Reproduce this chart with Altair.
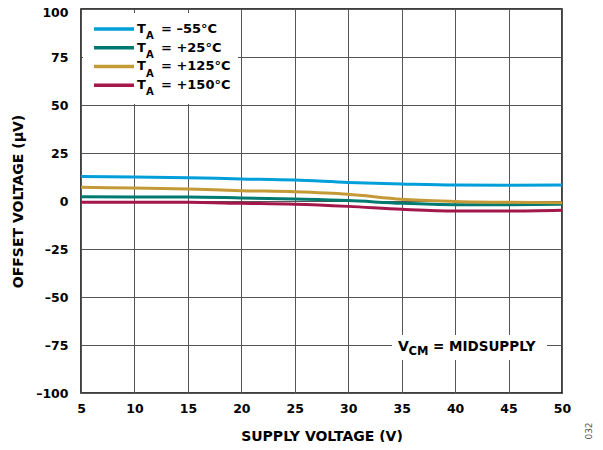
import altair as alt
import pandas as pd

# ---- data ----
supply_v = [5, 10, 15, 20, 25, 30, 35, 40, 45, 50]
off_m55 = [12.8, 12.5, 12.1, 11.5, 10.9, 9.7, 8.9, 8.3, 8.2, 8.3]
off_p25 = [2.2, 2.1, 2.1, 1.6, 1.0, 0.2, -1.2, -1.9, -1.9, -1.7]
off_p125 = [7.1, 6.8, 6.3, 5.4, 4.8, 3.5, 0.9, -0.2, -0.7, -0.9]
off_p150 = [-0.7, -0.7, -0.7, -1.2, -1.7, -2.8, -4.3, -5.2, -5.2, -4.8]

series_names = ["–55°C", "+25°C", "+125°C", "+150°C"]
series_values = [off_m55, off_p25, off_p125, off_p150]
series_colors = ["#009FDA", "#007A70", "#C49A37", "#A3174A"]

x_ticks = [5, 10, 15, 20, 25, 30, 35, 40, 45, 50]
y_ticks = [-100, -75, -50, -25, 0, 25, 50, 75, 100]

FONT = "DejaVu Sans"
W, H = 481, 384

rows = []
for name, vals in zip(series_names, series_values):
    for v, o in zip(supply_v, vals):
        rows.append({"series": name, "supply": v, "offset": o})
df = pd.DataFrame(rows)

one = pd.DataFrame({"k": [0]})

lines = alt.Chart(df).mark_line(strokeWidth=3, interpolate="monotone").encode(
    x=alt.X("supply:Q",
            scale=alt.Scale(domain=[5, 50], nice=False, zero=False),
            axis=alt.Axis(values=x_ticks, title="SUPPLY VOLTAGE (V)", grid=True,
                          gridColor="#555555", gridWidth=1, ticks=False, domain=False,
                          labelFont=FONT, labelFontSize=12.5, labelFontWeight="bold",
                          labelColor="#000000", labelPadding=9, labelFlush=False,
                          titleFont=FONT, titleFontSize=14, titleFontWeight="bold",
                          titleColor="#000000", titleY=47, titleBaseline="alphabetic")),
    y=alt.Y("offset:Q",
            scale=alt.Scale(domain=[-100, 100], nice=False),
            axis=alt.Axis(values=y_ticks, title="OFFSET VOLTAGE (µV)", grid=True,
                          gridColor="#555555", gridWidth=1, ticks=False, domain=False,
                          labelExpr="datum.value < 0 ? '–' + format(-datum.value, 'd') : format(datum.value, 'd')",
                          labelOffset={"condition": {"test": "datum.value == 100", "value": 3}, "value": 0},
                          labelFont=FONT, labelFontSize=12.5, labelFontWeight="bold",
                          labelColor="#000000", labelPadding=13, labelFlush=False,
                          titleFont=FONT, titleFontSize=14, titleFontWeight="bold",
                          titleColor="#000000", titleX=-63, titleY=H / 2,
                          titleAlign="center", titleBaseline="middle", titleAngle=270)),
    color=alt.Color("series:N", scale=alt.Scale(domain=series_names, range=series_colors),
                    legend=None),
    order=alt.Order("series:N"),
)

layers = []

# legend background
layers.append(alt.Chart(one).mark_rect(color="white").encode(
    x=alt.value(2), x2=alt.value(157), y=alt.value(4), y2=alt.value(95)))

# custom legend entries
for i, (name, col) in enumerate(zip(series_names, series_colors)):
    yc = 20 + i * 18.75
    layers.append(alt.Chart(one).mark_rule(color=col, strokeWidth=3.5).encode(
        x=alt.value(13), x2=alt.value(53), y=alt.value(yc)))
    layers.append(alt.Chart(one).mark_text(text="T", font=FONT, fontSize=13, fontWeight="bold",
                                           align="left", baseline="alphabetic", color="black").encode(
        x=alt.value(56), y=alt.value(yc + 3.8)))
    layers.append(alt.Chart(one).mark_text(text="A", font=FONT, fontSize=10, fontWeight="bold",
                                           align="left", baseline="alphabetic", color="black").encode(
        x=alt.value(65), y=alt.value(yc + 10)))
    layers.append(alt.Chart(one).mark_text(text="= " + name, font=FONT, fontSize=13, fontWeight="bold",
                                           align="left", baseline="alphabetic", color="black").encode(
        x=alt.value(80), y=alt.value(yc + 3.8)))

# annotation background and text
layers.append(alt.Chart(one).mark_rect(color="white").encode(
    x=alt.value(311), x2=alt.value(466), y=alt.value(326), y2=alt.value(351)))
layers.append(alt.Chart(one).mark_text(text="V", font=FONT, fontSize=14, fontWeight="bold",
                                       align="left", baseline="alphabetic", color="black").encode(
    x=alt.value(317), y=alt.value(342)))
layers.append(alt.Chart(one).mark_text(text="CM", font=FONT, fontSize=11.5, fontWeight="bold",
                                       align="left", baseline="alphabetic", color="black").encode(
    x=alt.value(327.5), y=alt.value(345.5)))
layers.append(alt.Chart(one).mark_text(text="= MIDSUPPLY", font=FONT, fontSize=13.5, fontWeight="bold",
                                       align="left", baseline="alphabetic", color="black").encode(
    x=alt.value(352), y=alt.value(342)))

# figure number
layers.append(alt.Chart(one).mark_text(text="032", font=FONT, fontSize=9, angle=270,
                                       align="center", baseline="middle", color="#555555").encode(
    x=alt.value(508), y=alt.value(422)))

chart = alt.layer(lines, *layers).properties(
    width=W, height=H,
    autosize=alt.AutoSizeParams(type="none"),
    padding={"left": 73, "top": 1, "right": 33, "bottom": 49},
).configure_view(stroke="black", strokeWidth=1.5)

chart.save("out.html", embed_options={"renderer": "svg", "actions": False})
